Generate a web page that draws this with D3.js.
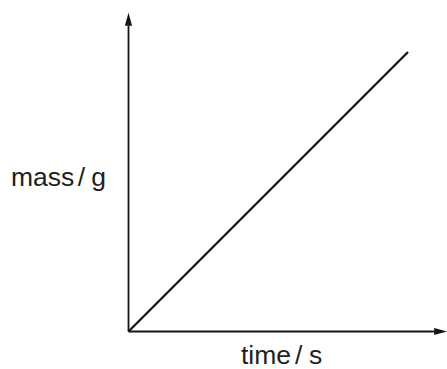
<!DOCTYPE html>
<html>
<head>
<meta charset="utf-8">
<script src="https://cdn.jsdelivr.net/npm/d3@7"></script>
<style>
  html, body { margin: 0; padding: 0; background: #fff; }
  text { font-family: "Liberation Sans", Arial, Helvetica, sans-serif; fill: #231f20; }
</style>
</head>
<body>
<div id="chart"></div>
<script>
// data: straight line through the origin
var time = [0, 10];
var mass = [0, 10];
var axisMax = 11.4; // how far the arrowed axes run past the data
var xLabel = ["time", "/", "s"];
var yLabel = ["mass", "/", "g"];

var w = 447, h = 369;
var ink = "#141414";

var svg = d3.select("#chart").append("svg")
  .attr("width", w).attr("height", h)
  .attr("xmlns", "http://www.w3.org/2000/svg");

var x = d3.scaleLinear().domain([0, 10]).range([128.5, 408]);
var y = d3.scaleLinear().domain([0, 10]).range([331.5, 52]);

// axes
var x0 = x(0), y0 = y(0), xEnd = x(axisMax), yEnd = y(axisMax);
var ah = 13, aw = 3.6;

svg.append("line")
  .attr("x1", x0).attr("y1", y0).attr("x2", x0).attr("y2", yEnd + ah)
  .attr("stroke", ink).attr("stroke-width", 1.8);
svg.append("line")
  .attr("x1", x0).attr("y1", y0).attr("x2", xEnd - ah).attr("y2", y0)
  .attr("stroke", ink).attr("stroke-width", 1.8);

svg.append("path")
  .attr("d", "M" + x0 + "," + yEnd + "L" + (x0 - aw) + "," + (yEnd + ah) + "L" + (x0 + aw) + "," + (yEnd + ah) + "Z")
  .attr("fill", ink);
svg.append("path")
  .attr("d", "M" + xEnd + "," + y0 + "L" + (xEnd - ah) + "," + (y0 - aw) + "L" + (xEnd - ah) + "," + (y0 + aw) + "Z")
  .attr("fill", ink);

// the line
var line = d3.line().x(function (d, i) { return x(time[i]); }).y(function (d) { return y(d); });
svg.append("path")
  .datum(mass)
  .attr("d", line)
  .attr("fill", "none")
  .attr("stroke", ink)
  .attr("stroke-width", 2.3);

// labels
function label(parts, px, py, gap) {
  var t = svg.append("text")
    .attr("x", px).attr("y", py)
    .style("font-size", "26.5px");
  t.append("tspan").text(parts[0]);
  t.append("tspan").attr("dx", gap[0]).text(parts[1]);
  t.append("tspan").attr("dx", gap[1]).text(parts[2]);
}
label(yLabel, 11, 186, [3.5, 6]);
label(xLabel, 241, 364, [4, 6.5]);
</script>
</body>
</html>
